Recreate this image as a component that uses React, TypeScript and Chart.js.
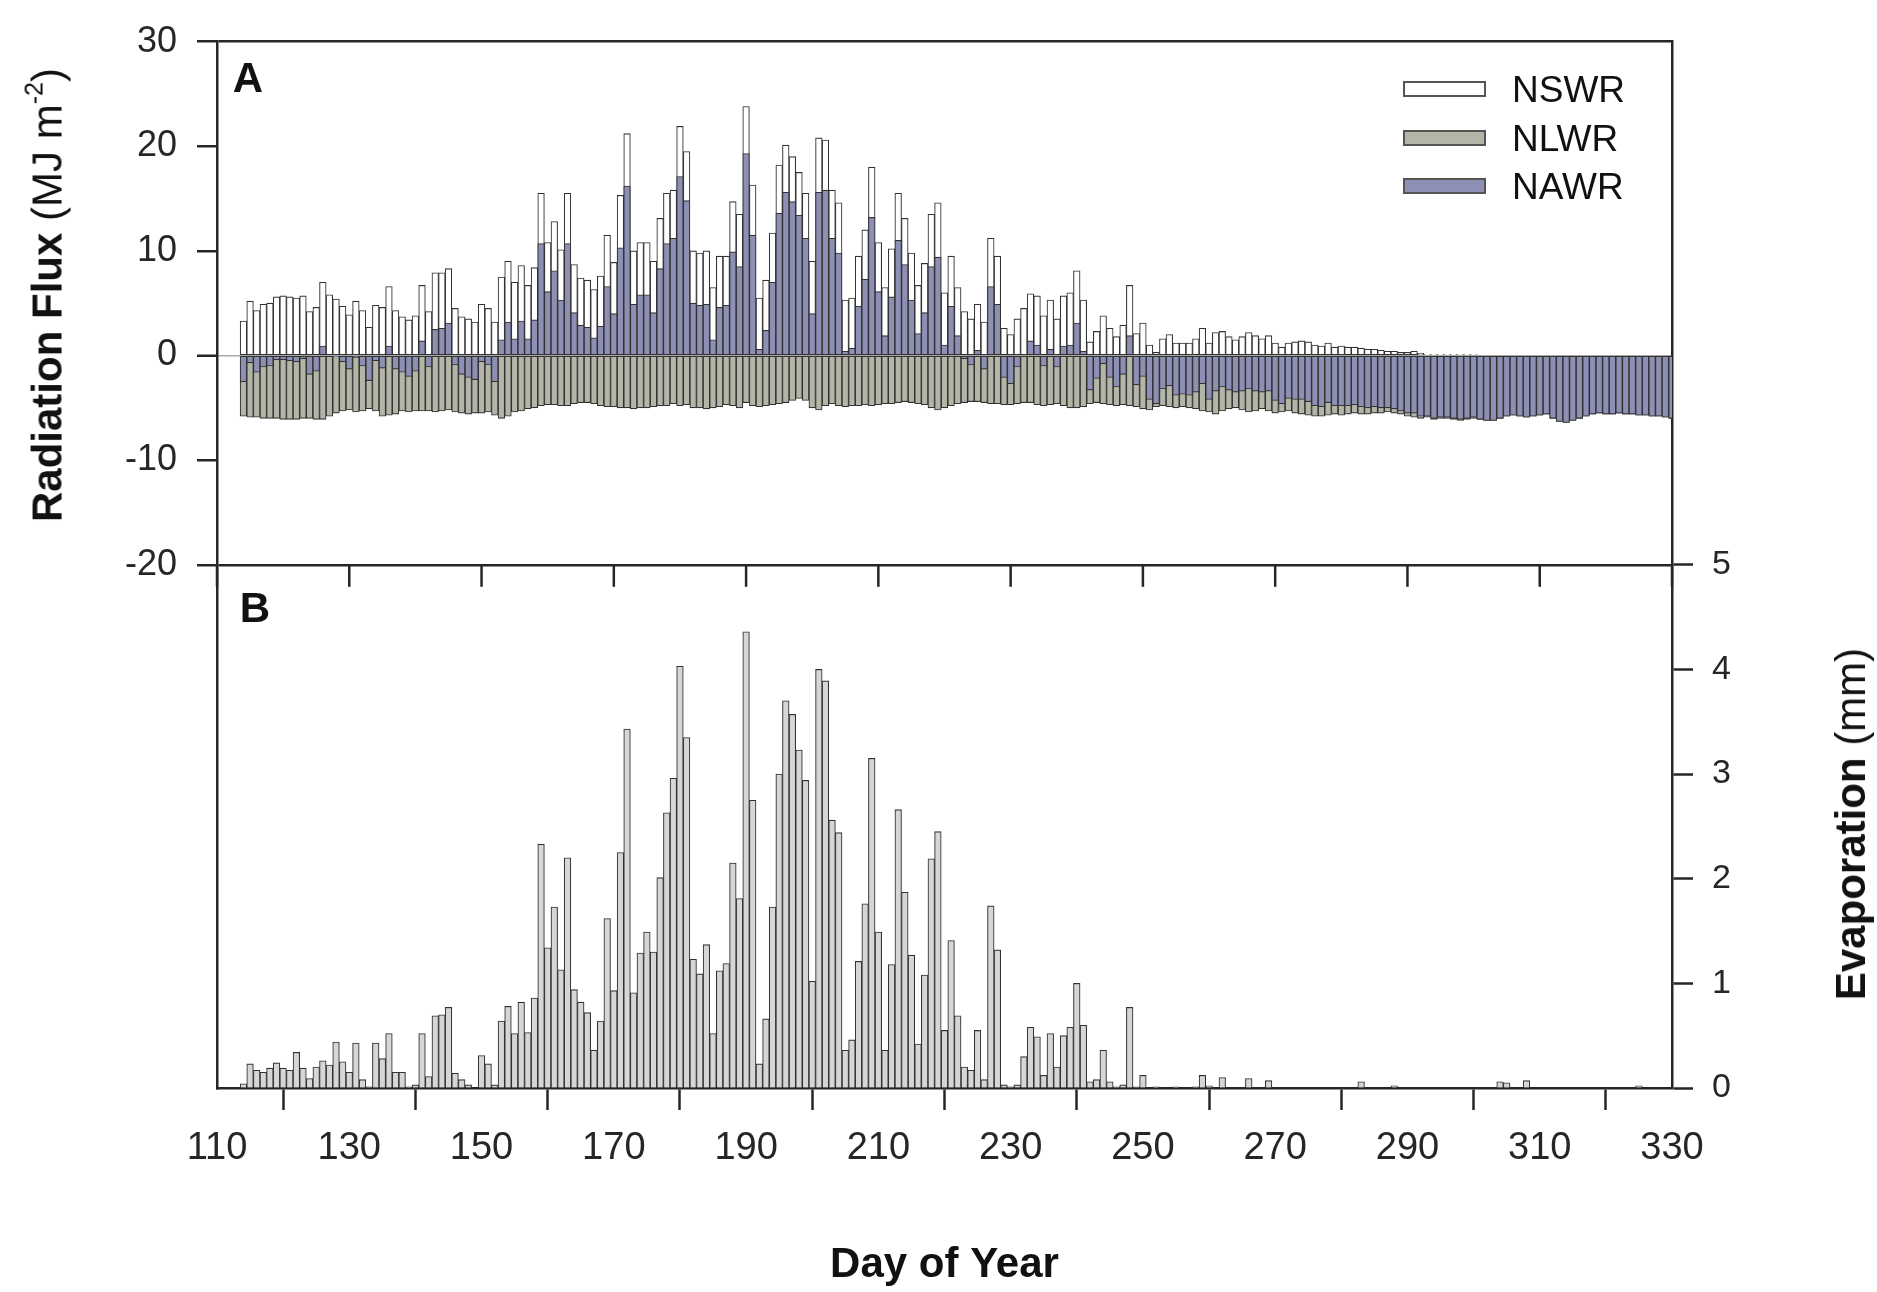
import React, { useEffect, useRef } from 'react';
import { Chart, registerables } from 'chart.js';

Chart.register(...registerables);

// ---------- data ----------
const FIRST_DAY = 114;

// Net short-wave radiation (MJ m-2), days 114..330
const NSWR = [
  3.3, 5.2, 4.3, 4.9, 5.0, 5.6, 5.7, 5.6, 5.5, 5.7,
  4.2, 4.6, 7.0, 5.8, 5.4, 4.7, 3.9, 5.2, 4.3, 2.7,
  4.8, 4.6, 6.6, 4.3, 3.7, 3.4, 3.8, 6.7, 4.2, 7.9,
  7.9, 8.3, 4.5, 3.7, 3.5, 3.2, 4.9, 4.5, 3.2, 7.5,
  9.0, 7.0, 8.6, 6.7, 8.4, 15.5, 10.8, 12.8, 10.1, 15.5,
  8.7, 7.4, 7.2, 6.3, 7.6, 11.5, 8.9, 15.3, 21.2, 10.0,
  10.8, 10.8, 9.0, 13.1, 15.5, 15.8, 21.9, 19.5, 10.0, 9.8,
  10.0, 6.5, 9.5, 9.5, 14.7, 13.5, 23.8, 16.3, 5.5, 7.2,
  11.7, 18.2, 20.1, 19.0, 17.5, 15.5, 9.0, 20.8, 20.6, 15.8,
  14.6, 5.3, 5.5, 9.5, 12.0, 18.0, 10.8, 6.5, 10.2, 15.5,
  13.1, 9.8, 6.7, 8.8, 13.5, 14.6, 6.0, 9.5, 6.5, 4.2,
  3.5, 4.9, 3.2, 11.2, 9.5, 2.6, 2.0, 3.5, 4.5, 5.9,
  5.7, 3.8, 5.3, 3.5, 5.7, 6.0, 8.1, 5.3, 1.3, 2.3,
  3.8, 2.6, 1.8, 2.9, 6.7, 2.1, 3.1, 1.0, 0.3, 1.6,
  2.0, 1.2, 1.2, 1.2, 1.6, 2.6, 1.2, 2.2, 2.3, 1.8,
  1.5, 1.8, 2.2, 1.9, 1.6, 1.9, 1.2, 0.8, 1.2, 1.3,
  1.4, 1.3, 1.0, 0.9, 1.2, 0.8, 0.9, 0.8, 0.8, 0.7,
  0.6, 0.6, 0.5, 0.4, 0.4, 0.3, 0.3, 0.4, 0.2, 0.1,
  0.1, 0.1, 0.1, 0.1, 0.1, 0.1, 0.1, 0.0, 0.0, 0.0,
  0.0, 0.0, 0.0, 0.0, 0.0, 0.0, 0.0, 0.0, 0.0, 0.0,
  0.0, 0.0, 0.0, 0.0, 0.0, 0.0, 0.0, 0.0, 0.0, 0.0,
  0.0, 0.0, 0.0, 0.0, 0.0, 0.0, 0.0,
];

// Net long-wave radiation (MJ m-2)
const NLWR = [
  -5.8, -5.9, -5.9, -6.0, -6.0, -6.0, -6.1, -6.1, -6.1, -6.0,
  -6.0, -6.1, -6.1, -5.8, -5.5, -5.3, -5.2, -5.4, -5.3, -5.1,
  -5.3, -5.8, -5.7, -5.6, -5.3, -5.4, -5.3, -5.3, -5.3, -5.4,
  -5.3, -5.2, -5.4, -5.5, -5.6, -5.5, -5.5, -5.4, -5.7, -6.0,
  -5.8, -5.4, -5.3, -5.1, -5.0, -4.8, -4.7, -4.7, -4.8, -4.8,
  -4.6, -4.5, -4.5, -4.6, -4.8, -4.9, -4.9, -5.0, -5.0, -5.1,
  -5.0, -5.0, -4.9, -4.8, -4.8, -4.6, -4.8, -4.7, -5.0, -5.0,
  -5.1, -5.0, -4.9, -4.7, -4.8, -5.0, -4.5, -4.8, -4.9, -4.8,
  -4.7, -4.6, -4.5, -4.3, -4.1, -4.3, -5.0, -5.2, -4.8, -4.6,
  -4.8, -4.9, -4.8, -4.8, -4.7, -4.8, -4.7, -4.6, -4.6, -4.5,
  -4.4, -4.5, -4.6, -4.7, -5.0, -5.2, -5.0, -4.8, -4.6, -4.5,
  -4.4, -4.4, -4.5, -4.6, -4.6, -4.7, -4.7, -4.6, -4.5, -4.5,
  -4.7, -4.8, -4.7, -4.6, -4.8, -5.0, -5.0, -4.9, -4.6, -4.5,
  -4.6, -4.7, -4.8, -4.7, -4.8, -4.9, -5.1, -5.2, -4.9, -4.8,
  -4.9, -5.0, -4.9, -5.0, -5.1, -5.3, -5.4, -5.6, -5.3, -5.1,
  -5.0, -5.2, -5.4, -5.3, -5.1, -5.3, -5.5, -5.4, -5.3, -5.5,
  -5.6, -5.7, -5.8, -5.8, -5.7, -5.6, -5.7, -5.6, -5.5, -5.6,
  -5.6, -5.5, -5.5, -5.4, -5.5, -5.6, -5.8, -5.9, -6.0, -5.9,
  -6.1, -6.0, -6.0, -6.1, -6.2, -6.1, -6.0, -6.1, -6.2, -6.2,
  -6.0, -5.8, -5.7, -5.8, -5.9, -5.8, -5.7, -5.6, -6.0, -6.3,
  -6.4, -6.2, -6.0, -5.8, -5.6, -5.5, -5.6, -5.6, -5.5, -5.6,
  -5.6, -5.7, -5.7, -5.8, -5.8, -5.9, -6.0,
];

// Net all-wave radiation (MJ m-2)
const NAWR = [
  -2.5, -0.7, -1.6, -1.1, -1.0, -0.4, -0.4, -0.5, -0.6, -0.3,
  -1.8, -1.5, 0.9, 0.0, -0.1, -0.6, -1.3, -0.2, -1.0, -2.4,
  -0.5, -1.2, 0.9, -1.3, -1.6, -2.0, -1.5, 1.4, -1.1, 2.5,
  2.6, 3.1, -0.9, -1.8, -2.1, -2.3, -0.6, -0.9, -2.5, 1.5,
  3.2, 1.6, 3.3, 1.6, 3.4, 10.7, 6.1, 8.1, 5.3, 10.7,
  4.1, 2.9, 2.7, 1.7, 2.8, 6.6, 4.0, 10.3, 16.2, 4.9,
  5.8, 5.8, 4.1, 8.3, 10.7, 11.2, 17.1, 14.8, 5.0, 4.8,
  4.9, 1.5, 4.6, 4.8, 9.9, 8.5, 19.3, 11.5, 0.6, 2.4,
  7.0, 13.6, 15.6, 14.7, 13.4, 11.2, 4.0, 15.6, 15.8, 11.2,
  9.8, 0.4, 0.7, 4.7, 7.3, 13.2, 6.1, 1.9, 5.6, 11.0,
  8.7, 5.3, 2.1, 4.1, 8.5, 9.4, 1.0, 4.7, 1.9, -0.3,
  -0.9, 0.5, -1.3, 6.6, 4.9, -2.1, -2.7, -1.1, 0.0, 1.4,
  1.0, -1.0, 0.6, -1.1, 0.9, 1.0, 3.1, 0.4, -3.3, -2.2,
  -0.8, -2.1, -3.0, -1.8, 1.9, -2.8, -2.0, -4.2, -4.6, -3.2,
  -2.9, -3.8, -3.7, -3.8, -3.5, -2.7, -4.2, -3.4, -3.0, -3.3,
  -3.5, -3.4, -3.2, -3.4, -3.5, -3.4, -4.3, -4.6, -4.1, -4.2,
  -4.2, -4.4, -4.8, -4.9, -4.5, -4.8, -4.8, -4.8, -4.7, -4.9,
  -5.0, -4.9, -5.0, -5.0, -5.1, -5.3, -5.5, -5.5, -5.8, -5.8,
  -6.0, -5.9, -5.9, -6.0, -6.1, -6.0, -5.9, -6.1, -6.2, -6.2,
  -6.0, -5.8, -5.7, -5.8, -5.9, -5.8, -5.7, -5.6, -6.0, -6.3,
  -6.4, -6.2, -6.0, -5.8, -5.6, -5.5, -5.6, -5.6, -5.5, -5.6,
  -5.6, -5.7, -5.7, -5.8, -5.8, -5.9, -6.0,
];

// Evaporation (mm)
const EVAP = [
  0.04, 0.23, 0.17, 0.15, 0.19, 0.24, 0.19, 0.17, 0.34, 0.19,
  0.09, 0.20, 0.26, 0.22, 0.44, 0.25, 0.15, 0.43, 0.08, 0.01,
  0.43, 0.28, 0.52, 0.15, 0.15, 0.01, 0.03, 0.52, 0.11, 0.69,
  0.70, 0.77, 0.14, 0.08, 0.03, 0.00, 0.31, 0.23, 0.03, 0.64,
  0.78, 0.52, 0.82, 0.53, 0.86, 2.33, 1.34, 1.73, 1.13, 2.20,
  0.94, 0.82, 0.72, 0.36, 0.64, 1.62, 0.93, 2.25, 3.43, 0.91,
  1.29, 1.49, 1.30, 2.01, 2.63, 2.96, 4.03, 3.35, 1.23, 1.09,
  1.37, 0.52, 1.12, 1.19, 2.15, 1.81, 4.36, 2.75, 0.23, 0.66,
  1.73, 3.00, 3.70, 3.57, 3.23, 2.94, 1.02, 4.00, 3.89, 2.56,
  2.44, 0.36, 0.46, 1.21, 1.76, 3.15, 1.49, 0.36, 1.18, 2.66,
  1.87, 1.27, 0.42, 1.08, 2.19, 2.45, 0.55, 1.41, 0.69, 0.20,
  0.17, 0.55, 0.08, 1.74, 1.32, 0.03, 0.01, 0.03, 0.30, 0.58,
  0.49, 0.12, 0.52, 0.20, 0.50, 0.58, 1.00, 0.60, 0.06, 0.08,
  0.36, 0.06, 0.01, 0.03, 0.77, 0.01, 0.12, 0.00, 0.01, 0.00,
  0.00, 0.01, 0.00, 0.00, 0.01, 0.12, 0.02, 0.00, 0.10, 0.00,
  0.00, 0.00, 0.09, 0.00, 0.00, 0.07, 0.00, 0.00, 0.00, 0.00,
  0.00, 0.00, 0.00, 0.00, 0.00, 0.00, 0.00, 0.00, 0.00, 0.06,
  0.00, 0.00, 0.00, 0.00, 0.02, 0.00, 0.00, 0.00, 0.00, 0.00,
  0.00, 0.00, 0.00, 0.00, 0.00, 0.00, 0.00, 0.00, 0.00, 0.00,
  0.06, 0.05, 0.00, 0.00, 0.07, 0.00, 0.00, 0.00, 0.00, 0.00,
  0.00, 0.00, 0.00, 0.00, 0.00, 0.00, 0.00, 0.00, 0.00, 0.00,
  0.00, 0.02, 0.00, 0.00, 0.00, 0.00, 0.00,
];

const DAYS = NSWR.map((_, i) => FIRST_DAY + i);
const X_TICKS = [110, 130, 150, 170, 190, 210, 230, 250, 270, 290, 310, 330];
const RAD_TICKS = [-20, -10, 0, 10, 20, 30];
const EVAP_TICKS = [0, 1, 2, 3, 4, 5];
const PANEL_SPLIT = -20; // radiation value where panel A meets panel B

// ---------- styling ----------
const FONT = "'Liberation Sans', Arial, Helvetica, sans-serif";
const DARK = '#262626';
const C_NSWR = '#ffffff';
const C_NLWR = '#b3b5a6';
const C_NAWR = '#8d8fb4';
const C_EVAP = '#d6d6d6';
const C_EDGE = '#333333';
const NONE = 'rgba(0,0,0,0)';

const toXY = (vals: number[]) => vals.map((v, i) => ({ x: DAYS[i], y: v }));

// tick marks on the shared edge between panel A and panel B, pointing into B
const midTicks = {
  id: 'midTicks',
  afterDraw(chart: any) {
    const { ctx, scales } = chart;
    const xs = scales.x;
    const ys = scales.y;
    const yPix = ys.getPixelForValue(PANEL_SPLIT);
    ctx.save();
    ctx.strokeStyle = DARK;
    ctx.lineWidth = 2.5;
    X_TICKS.forEach((v) => {
      const px = xs.getPixelForValue(v);
      ctx.beginPath();
      ctx.moveTo(px, yPix);
      ctx.lineTo(px, yPix + 22);
      ctx.stroke();
    });
    ctx.restore();
  },
};

export default function App() {
  const canvasRef = useRef<HTMLCanvasElement | null>(null);

  useEffect(() => {
    document.body.style.margin = '0';
    const canvas = canvasRef.current;
    if (!canvas) return;

    const barCommon = {
      grouped: false,
      barPercentage: 1,
      categoryPercentage: 1,
      borderColor: C_EDGE,
      borderWidth: 1.1,
      xAxisID: 'x',
    };

    const chart = new Chart(canvas, {
      type: 'bar',
      data: {
        datasets: [
          { ...barCommon, label: 'NAWR', data: toXY(NAWR), yAxisID: 'y', backgroundColor: C_NAWR, borderSkipped: false, order: 0 },
          { ...barCommon, label: 'NSWR', data: toXY(NSWR), yAxisID: 'y', backgroundColor: C_NSWR, borderSkipped: false, order: 1 },
          { ...barCommon, label: 'NLWR', data: toXY(NLWR), yAxisID: 'y', backgroundColor: C_NLWR, borderSkipped: false, order: 2 },
          { ...barCommon, label: 'Evaporation', data: toXY(EVAP), yAxisID: 'yB', backgroundColor: C_EVAP, order: 3 },
        ] as any,
      },
      options: {
        animation: false,
        responsive: false,
        devicePixelRatio: 1,
        layout: { padding: { left: 117, right: 105, top: 30, bottom: 1 } },
        plugins: { legend: { display: false }, tooltip: { enabled: false } },
        scales: {
          x: {
            type: 'linear',
            position: 'bottom',
            min: 110,
            max: 330,
            offset: false,
            ticks: {
              stepSize: 20,
              autoSkip: false,
              maxRotation: 0,
              padding: 16,
              color: DARK,
              font: { family: FONT, size: 38 },
              callback: (v: any) => (X_TICKS.includes(Number(v)) ? String(v) : null),
            },
            grid: { drawOnChartArea: false, drawTicks: true, tickLength: 22, tickColor: DARK, tickWidth: 2.5 },
            border: { display: true, color: DARK, width: 2.5 },
            title: {
              display: true,
              text: 'Day of Year',
              color: '#111',
              padding: 0,
              font: { family: FONT, size: 42, weight: 'bold' },
            },
            afterFit: (s: any) => { s.height = 203; },
          },
          y: {
            type: 'linear',
            position: 'left',
            min: -70,
            max: 30,
            ticks: {
              stepSize: 10,
              padding: 20,
              color: DARK,
              font: { family: FONT, size: 36 },
              callback: (v: any) => (RAD_TICKS.includes(Number(v)) ? String(v) : null),
            },
            grid: {
              drawOnChartArea: true,
              drawTicks: true,
              tickLength: 20,
              tickWidth: 2.5,
              tickColor: (c: any) => (c.tick && c.tick.value >= PANEL_SPLIT ? DARK : NONE),
              color: (c: any) => {
                const v = c.tick ? c.tick.value : NaN;
                if (v === 0) return '#a8a8a8';
                if (v === 30 || v === PANEL_SPLIT) return DARK;
                return NONE;
              },
              lineWidth: (c: any) => (c.tick && c.tick.value === 0 ? 1.5 : 2.5),
            },
            border: { display: true, color: DARK, width: 2.5 },
            afterFit: (s: any) => { s.width = 100; },
          },
          yB: {
            type: 'linear',
            position: 'right',
            min: 0,
            max: 10,
            ticks: {
              stepSize: 1,
              padding: 19,
              color: DARK,
              font: { family: FONT, size: 34 },
              callback: (v: any) => (EVAP_TICKS.includes(Number(v)) ? String(v) : null),
            },
            grid: {
              drawOnChartArea: false,
              drawTicks: true,
              tickLength: 21,
              tickWidth: 2.5,
              tickColor: (c: any) => (c.tick && c.tick.value <= 5 ? DARK : NONE),
            },
            border: { display: true, color: DARK, width: 2.5 },
            afterFit: (s: any) => { s.width = 100; },
          },
        } as any,
      },
      plugins: [midTicks],
    });

    return () => chart.destroy();
  }, []);

  const abs = (extra: React.CSSProperties): React.CSSProperties => ({
    position: 'absolute',
    fontFamily: FONT,
    color: '#111',
    whiteSpace: 'nowrap',
    lineHeight: 1,
    ...extra,
  });

  const legendRows = [
    { label: 'NSWR', color: C_NSWR, y: 89 },
    { label: 'NLWR', color: C_NLWR, y: 137.5 },
    { label: 'NAWR', color: C_NAWR, y: 186 },
  ];

  return (
    <div style={{ position: 'relative', width: 1877, height: 1292, background: '#fff', overflow: 'hidden' }}>
      <canvas ref={canvasRef} width={1877} height={1292} style={{ width: 1877, height: 1292, display: 'block' }} />

      {/* panel letters */}
      <div style={abs({ left: 248, top: 78, transform: 'translate(-50%,-50%)', fontSize: 42, fontWeight: 'bold' })}>A</div>
      <div style={abs({ left: 255, top: 608, transform: 'translate(-50%,-50%)', fontSize: 42, fontWeight: 'bold' })}>B</div>

      {/* left axis title */}
      <div style={abs({ left: 45, top: 295, transform: 'translate(-50%,-50%) rotate(-90deg)', fontSize: 42 })}>
        <span style={{ fontWeight: 'bold' }}>Radiation Flux</span>
        <span> (MJ m</span>
        <sup style={{ fontSize: '0.6em', verticalAlign: '0.75em' }}>-2</sup>
        <span>)</span>
      </div>

      {/* right axis title */}
      <div style={abs({ left: 1851, top: 824, transform: 'translate(-50%,-50%) rotate(-90deg)', fontSize: 42 })}>
        <span style={{ fontWeight: 'bold' }}>Evaporation</span>
        <span> (mm)</span>
      </div>

      {/* legend */}
      {legendRows.map((r) => (
        <React.Fragment key={r.label}>
          <div
            style={{
              position: 'absolute',
              left: 1403,
              top: r.y - 8,
              width: 83,
              height: 16,
              boxSizing: 'border-box',
              background: r.color,
              border: '2px solid #555',
            }}
          />
          <div style={abs({ left: 1512, top: r.y, transform: 'translateY(-50%)', fontSize: 37 })}>{r.label}</div>
        </React.Fragment>
      ))}
    </div>
  );
}
